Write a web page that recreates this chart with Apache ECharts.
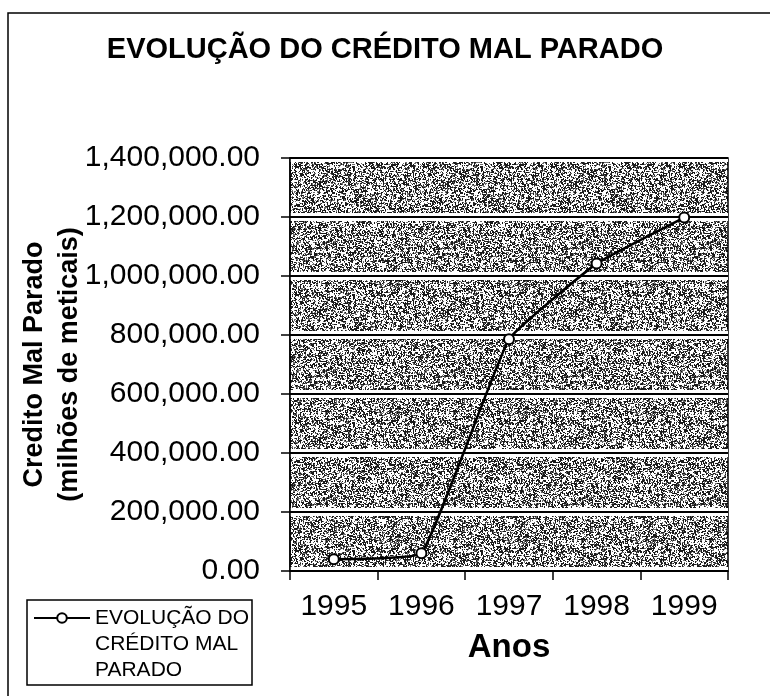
<!DOCTYPE html>
<html>
<head>
<meta charset="utf-8">
<script src="https://cdn.jsdelivr.net/npm/echarts@6/dist/echarts.min.js"></script>
<style>
  html, body { margin: 0; padding: 0; background: #fff; }
  #chart { width: 770px; height: 696px; }
</style>
</head>
<body>
<div id="chart"></div>
<script>
// dados
const anos = ["1995", "1996", "1997", "1998", "1999"];
const creditoMalParado = [40000, 60000, 786000, 1042000, 1198000];
const yTicks = [0, 200000, 400000, 600000, 800000, 1000000, 1200000, 1400000];

const serieNome = "EVOLUÇÃO DO CRÉDITO MAL PARADO";
const fonte = "'Liberation Sans', Arial, sans-serif";

// textura cinzenta pontilhada (so estilo do fundo)
function texture() {
  const c = document.createElement("canvas");
  c.width = 128;
  c.height = 128;
  const ctx = c.getContext("2d");
  ctx.fillStyle = "#fff";
  ctx.fillRect(0, 0, c.width, c.height);
  const hash = (x, y) => {
    let n = Math.imul(x, 374761393) + Math.imul(y, 668265263);
    n = Math.imul(n ^ (n >>> 13), 1274126177);
    return ((n ^ (n >>> 16)) >>> 0) / 4294967296;
  };
  for (let y = 0; y < c.height; y++) {
    for (let x = 0; x < c.width; x++) {
      const v = hash(x, y);
      if (v < 0.26) {
        ctx.fillStyle = "#1a1a1a";
        ctx.fillRect(x, y, v < 0.09 ? 2 : 1, v > 0.17 ? 2 : 1);
      } else if (v < 0.42) {
        ctx.fillStyle = "#6c6c6c";
        ctx.fillRect(x, y, 1, 1);
      }
    }
  }
  return c;
}

const chart = echarts.init(document.getElementById("chart"));

const yBase = {
  type: "value",
  min: yTicks[0],
  max: yTicks[yTicks.length - 1],
  interval: yTicks[1] - yTicks[0],
};

chart.setOption({
  backgroundColor: "#fff",
  animation: false,
  title: {
    text: "EVOLUÇÃO DO CRÉDITO MAL PARADO",
    left: "center",
    top: 30,
    textStyle: { fontFamily: fonte, fontSize: 29, fontWeight: "bold", color: "#000" },
  },
  graphic: [
    {
      // moldura exterior
      type: "rect",
      shape: { x: 8, y: 13, width: 800, height: 720 },
      style: { fill: null, stroke: "#000", lineWidth: 1.5 },
      silent: true,
    },
    {
      // caixa da legenda
      type: "rect",
      shape: { x: 27, y: 600, width: 225, height: 85 },
      style: { fill: null, stroke: "#000", lineWidth: 1.5 },
      silent: true,
    },
  ],
  legend: {
    left: 33,
    top: 553,
    padding: 0,
    itemWidth: 56,
    itemHeight: 12,
    data: [serieNome],
    formatter: () => "{gap| }\n{t|EVOLUÇÃO DO}\n{t|CRÉDITO MAL}\n{t|PARADO}",
    textStyle: {
      fontFamily: fonte,
      fontSize: 21,
      color: "#000",
      rich: {
        gap: { fontSize: 10, lineHeight: 52, height: 52 },
        t: { fontFamily: fonte, fontSize: 21, lineHeight: 26, color: "#000" },
      },
    },
  },
  grid: {
    left: 290,
    right: 42,
    top: 158,
    bottom: 125,
    outerBoundsMode: "none",
    containLabel: false,
    show: true,
    backgroundColor: { image: texture(), repeat: "repeat" },
    borderColor: "#000",
    borderWidth: 1.5,
  },
  xAxis: {
    type: "category",
    data: anos,
    boundaryGap: true,
    z: 2,
    name: "Anos",
    nameLocation: "middle",
    nameGap: 60,
    nameMoveOverlap: false,
    nameTextStyle: { fontFamily: fonte, fontSize: 33, fontWeight: "bold", color: "#000" },
    axisLine: { lineStyle: { color: "#000", width: 1.5 } },
    axisTick: {
      show: true,
      inside: false,
      length: 9,
      interval: 0,
      lineStyle: { color: "#000", width: 1.5 },
    },
    axisLabel: { fontFamily: fonte, fontSize: 30, color: "#000", margin: 21, interval: 0 },
  },
  yAxis: [
    {
      ...yBase,
      z: 2,
      name: "Credito Mal Parado\n(milhões de meticais)",
      nameLocation: "middle",
      nameRotate: 90,
      nameGap: 203,
      nameMoveOverlap: false,
      nameTextStyle: {
        fontFamily: fonte,
        fontSize: 27,
        fontWeight: "bold",
        color: "#000",
        lineHeight: 35,
        align: "center",
      },
      axisLine: { show: true, lineStyle: { color: "#000", width: 1.5 } },
      axisTick: { show: true, inside: false, length: 9, lineStyle: { color: "#000", width: 1.5 } },
      axisLabel: {
        fontFamily: fonte,
        fontSize: 30,
        color: "#000",
        margin: 30,
        formatter: (v) =>
          v.toLocaleString("en-US", { minimumFractionDigits: 2, maximumFractionDigits: 2 }),
      },
      splitLine: { show: true, lineStyle: { color: "#000", width: 2 } },
    },
    {
      // faixa branca por baixo das linhas de grelha
      ...yBase,
      z: 1,
      position: "left",
      axisLine: { show: false },
      axisTick: { show: false },
      axisLabel: { show: false },
      splitLine: { show: true, lineStyle: { color: "#fff", width: 8 } },
    },
  ],
  series: [
    {
      name: serieNome,
      type: "line",
      z: 3,
      data: creditoMalParado,
      smooth: 0.1,
      symbol: "emptyCircle",
      symbolSize: 10,
      lineStyle: { color: "#000", width: 2.5 },
      itemStyle: { color: "#000", borderColor: "#000", borderWidth: 2.5 },
    },
  ],
});
</script>
</body>
</html>
